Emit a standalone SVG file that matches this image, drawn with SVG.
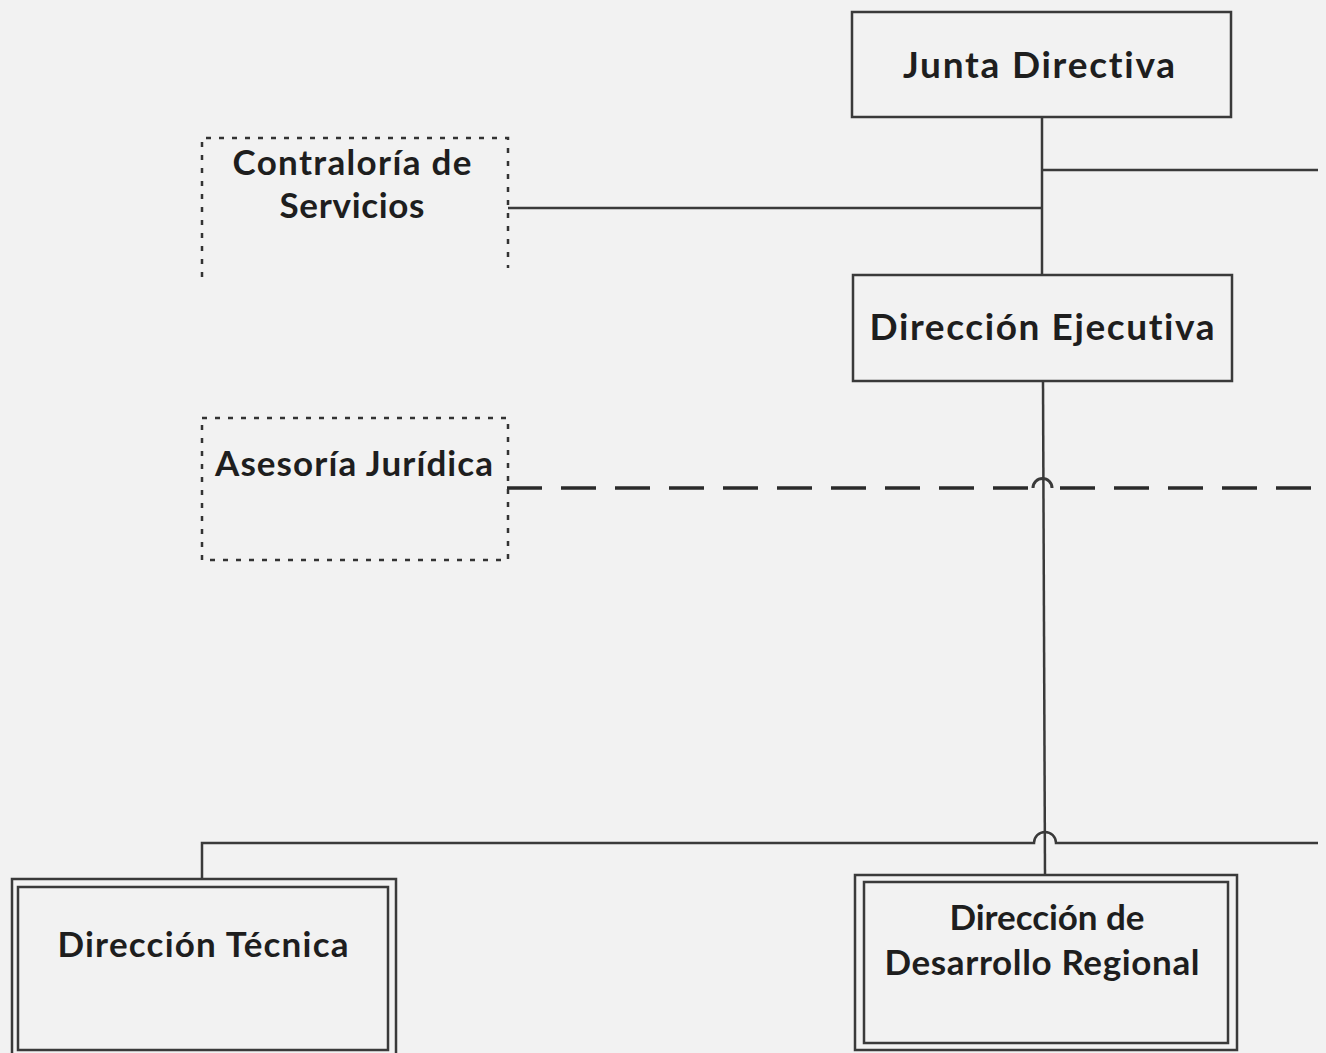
<svg xmlns="http://www.w3.org/2000/svg" width="1326" height="1053" viewBox="0 0 1326 1053">
<style>
.bg{fill:#f2f2f2}
.box{fill:none;stroke:#3a3a3a;stroke-width:2.5}
.dot{fill:none;stroke:#333;stroke-width:2.5;stroke-dasharray:5 8}
.ln{fill:none;stroke:#3a3a3a;stroke-width:2.5}
.dash{fill:none;stroke:#2a2a2a;stroke-width:3.5;stroke-dasharray:35 19}
.t{font-family:Lato,"Liberation Sans",sans-serif;font-weight:bold;fill:#1e1e1e;text-anchor:middle;font-variant-ligatures:none;font-feature-settings:"liga" 0}
.big{font-size:37px}
.mid{font-size:35px}
</style>
<rect class="bg" x="0" y="0" width="1326" height="1053"/>
<g id="connectors">
<line class="ln" x1="1042" y1="117" x2="1042" y2="275"/>
<line class="ln" x1="1042" y1="170" x2="1318" y2="170"/>
<line class="ln" x1="508" y1="208" x2="1042" y2="208"/>
<line class="ln" x1="1043" y1="381" x2="1045" y2="875"/>
<path class="dash" d="M507,488 H1033"/>
<path class="ln" d="M1033,488 A9.5 9.5 0 0 1 1052,488" style="stroke-width:3"/>
<path class="dash" d="M1054,488 H1318" style="stroke-dashoffset:-6"/>
<path class="ln" d="M202,879 V843 H1034 A11 11 0 0 1 1056,843 H1318"/>
</g>
<g id="junta">
<rect class="box" x="852" y="12" width="379" height="105"/>
<text class="t big" x="1039" y="78" textLength="272">Junta Directiva</text>
</g>
<g id="ejecutiva">
<rect class="box" x="853" y="275" width="379" height="106"/>
<text class="t big" x="1042" y="340" textLength="345">Dirección Ejecutiva</text>
</g>
<g id="contraloria">
<path class="dot" d="M202,277 V138 H508 V268"/>
<text class="t mid" x="352" y="175" textLength="239">Contraloría de</text>
<text class="t mid" x="352" y="218" textLength="145">Servicios</text>
</g>
<g id="asesoria">
<rect class="dot" x="202" y="418" width="306" height="142"/>
<text class="t mid" x="354" y="476" textLength="278">Asesoría Jurídica</text>
</g>
<g id="tecnica">
<rect class="box" x="12" y="879" width="384" height="180"/>
<rect class="box" x="18" y="887" width="370" height="163"/>
<text class="t mid" x="203" y="957" textLength="291">Dirección Técnica</text>
</g>
<g id="regional">
<rect class="box" x="855" y="875" width="382" height="175"/>
<rect class="box" x="864" y="882" width="364" height="161"/>
<text class="t mid" x="1047" y="930" textLength="195">Dirección de</text>
<text class="t mid" x="1042" y="975" textLength="315">Desarrollo Regional</text>
</g>
</svg>
